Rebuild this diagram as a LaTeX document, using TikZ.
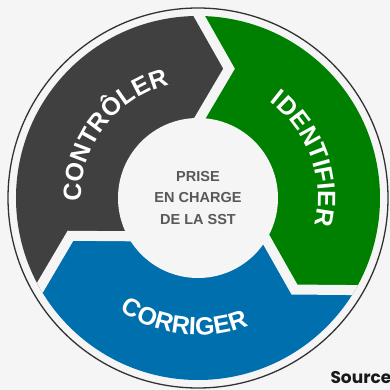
\documentclass[tikz,border=0pt]{standalone}
\usepackage{fontspec}
\setmainfont{Liberation Sans}
\newfontfamily\srcfont{Poppins}
\usetikzlibrary{calc,decorations.text}

\definecolor{bgc}{RGB}{245,245,245}
\definecolor{segdark}{RGB}{64,64,64}
\definecolor{seggreen}{RGB}{0,128,0}
\definecolor{segblue}{RGB}{0,111,173}
\definecolor{midgray}{RGB}{88,88,88}
\definecolor{rimgray}{RGB}{50,50,50}

\newcommand{\segfont}{\fontsize{25}{30}\selectfont\bfseries}

\tikzstyle{gap} = [draw=bgc,line width=10pt,line join=miter]
\tikzstyle{rim} = [draw=rimgray,line width=1.3pt]
\tikzstyle{word} = [decorate,decoration={text along path,text align=center,text color=white}]

\begin{document}
\begin{tikzpicture}[x=1pt,y=1pt]
\fill[bgc] (-198,-192) rectangle (192,198);
\useasboundingbox (-198,-192) rectangle (192,198);

% chevron tips between the segments
\coordinate (tipTop) at (76.5:133);
\coordinate (tipRight) at (-43.5:133);
\coordinate (tipLeft) at (196.5:133);
\coordinate (inTop) at ($(tipTop)+(239.5:70)$);
\coordinate (outTop) at ($(tipTop)+(119.5:75)$);
\coordinate (inRight) at ($(tipRight)+(119.5:70)$);
\coordinate (outRight) at ($(tipRight)+(-0.5:75)$);
\coordinate (inLeft) at ($(tipLeft)+(359.5:70)$);
\coordinate (outLeft) at ($(tipLeft)+(239.5:75)$);

\begin{scope}
\clip (0,0) circle (182);
\fill[segdark] (0,0) -- (inLeft) -- (tipLeft) -- (outLeft) -- (211.5:400) -- (91.5:400) -- (outTop) -- (tipTop) -- (inTop) -- cycle;
\fill[seggreen] (0,0) -- (inTop) -- (tipTop) -- (outTop) -- (91.5:400) -- (-28.5:400) -- (outRight) -- (tipRight) -- (inRight) -- cycle;
\fill[segblue] (0,0) -- (inRight) -- (tipRight) -- (outRight) -- (-28.5:400) -- (-148.5:400) -- (outLeft) -- (tipLeft) -- (inLeft) -- cycle;
\draw[gap] (inTop) -- (tipTop) -- (outTop);
\draw[gap] (inRight) -- (tipRight) -- (outRight);
\draw[gap] (inLeft) -- (tipLeft) -- (outLeft);
\end{scope}

\fill[bgc] (0,0) circle (80);
\draw[rim] (0,0) circle (190);

% labels on the ring
\path[word,decoration={text={|\segfont|CONTRÔLER}}] (183:117) arc[start angle=183,end angle=103,radius=117];
\path[word,decoration={text={|\segfont|IDENTIFIER}}] (60:120) arc[start angle=60,end angle=-20,radius=120];
\path[word,decoration={text={|\segfont|CORRIGER}}] (-131.5:137) arc[start angle=-131.5,end angle=-61.5,radius=137];

\node[align=center,text=midgray,font=\fontsize{14.5}{21.5}\selectfont\bfseries] (core) at (0,0) {PRISE\\EN CHARGE\\DE LA SST};
\node[anchor=base west,text=black!90,font=\srcfont\fontsize{17}{20}\selectfont\bfseries] (src) at (129,-185.3) {Source};
\end{tikzpicture}
\end{document}
